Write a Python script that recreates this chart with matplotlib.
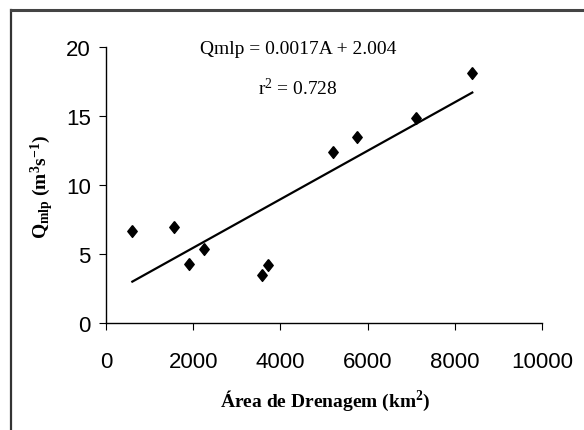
import matplotlib
matplotlib.use("Agg")
import matplotlib.pyplot as plt
import numpy as np
from matplotlib.lines import Line2D

# Drainage area (km2) vs mean discharge Qmlp (m3/s)
area = [604, 1560, 1911, 2255, 3586, 3716, 5214, 5750, 7103, 8401]
qmlp = [6.64, 6.98, 4.30, 5.36, 3.48, 4.20, 12.41, 13.46, 14.86, 18.14]

equation_text = "Qmlp = 0.0017A + 2.004"
r2_text = "r$^2$ = 0.728"
x_ticks = [0, 2000, 4000, 6000, 8000, 10000]
y_ticks = [0, 5, 10, 15, 20]

plt.rcParams['mathtext.fontset'] = 'custom'
plt.rcParams['mathtext.rm'] = 'Liberation Serif'
plt.rcParams['mathtext.bf'] = 'Liberation Serif:bold'
plt.rcParams['mathtext.it'] = 'Liberation Serif'

W, H = 584, 431
fig = plt.figure(figsize=(W / 100, H / 100), dpi=100)
ax = fig.add_axes([106 / W, 1 - 324 / H, 436 / W, 276 / H])

# outer frame (only left and top edges visible)
fig.add_artist(Line2D([11 / W, 11 / W], [0, 1 - 11 / H], transform=fig.transFigure,
                      color="#333333", lw=1.6))
fig.add_artist(Line2D([11 / W, 1], [1 - 11 / H, 1 - 11 / H], transform=fig.transFigure,
                      color="#444444", lw=2.2))

# data points
diamond = [(0, 1), (0.8, 0), (0, -1), (-0.8, 0), (0, 1)]
ax.plot(area, qmlp, linestyle="none", marker=diamond, markersize=8.5,
        color="black", zorder=3)

# linear trend line over the data range
coef = np.polyfit(area, qmlp, 1)
xs = np.array([min(area), max(area)])
ax.plot(xs, np.polyval(coef, xs), color="black", lw=1.6)

ax.set_xlim(0, 10000)
ax.set_ylim(0, 20)
ax.set_xticks(x_ticks)
ax.set_yticks(y_ticks)
for s in ["top", "right"]:
    ax.spines[s].set_visible(False)
for s in ["left", "bottom"]:
    ax.spines[s].set_linewidth(1.0)
ax.tick_params(axis="x", direction="out", length=5, pad=15, labelsize=16)
ax.tick_params(axis="y", direction="out", length=5, pad=6, labelsize=16)
for lab in ax.get_xticklabels() + ax.get_yticklabels():
    lab.set_fontfamily("Liberation Sans")

# equation
ax.text(0.44, 0.995, equation_text, transform=ax.transAxes, ha="center", va="center",
        fontsize=14, family="Liberation Serif")
ax.text(0.44, 0.855, r2_text, transform=ax.transAxes, ha="center", va="center",
        fontsize=14, family="Liberation Serif")

# axis titles
fig.text(325 / W, 1 - 401 / H, "Área de Drenagem (km$^\\mathbf{2}$)", ha="center", va="center",
         fontsize=14, fontweight="bold", family="Liberation Serif")
fig.text(42 / W, 1 - 187 / H, r"$\mathbf{Q_{mlp}}$ (m$^\mathbf{3}$s$^\mathbf{-1}$)",
         rotation=90, ha="center", va="center",
         fontsize=14, fontweight="bold", family="Liberation Serif")

fig.savefig("out.png", dpi=100)
